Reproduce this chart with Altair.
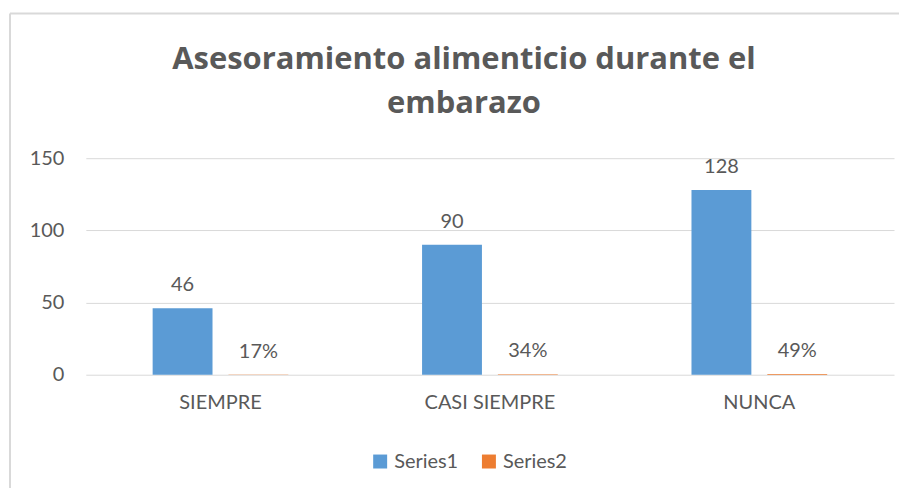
import altair as alt
import pandas as pd

categories = ["SIEMPRE", "CASI SIEMPRE", "NUNCA"]
series1 = [46, 90, 128]
series2 = [0.17, 0.34, 0.49]
series_names = ["Series1", "Series2"]
y_ticks = [0, 50, 100, 150]

rows = []
for c, v in zip(categories, series1):
    rows.append({"cat": c, "series": series_names[0], "value": v, "label": f"{v}"})
for c, v in zip(categories, series2):
    rows.append({"cat": c, "series": series_names[1], "value": v, "label": f"{round(v * 100)}%"})
df = pd.DataFrame(rows)

FONT = "Lato"
GRAY = "#595959"
GRID = "#d9d9d9"

base = alt.Chart(df).encode(
    x=alt.X(
        "cat:N",
        sort=categories,
        scale=alt.Scale(paddingInner=0.4963, paddingOuter=0.248),
        axis=alt.Axis(title=None, labelAngle=0, ticks=False, domain=False,
                      labelFontSize=20, labelColor=GRAY, labelFont=FONT, labelPadding=18),
    ),
    xOffset=alt.XOffset("series:N", sort=series_names,
                        scale=alt.Scale(paddingInner=0.2105, paddingOuter=0)),
)

bars = base.mark_bar().encode(
    y=alt.Y("value:Q", scale=alt.Scale(domain=[0, 150], nice=False),
            axis=alt.Axis(values=y_ticks, title=None, ticks=False, domain=False,
                          gridColor=GRID, labelFontSize=20, labelColor=GRAY,
                          labelFont=FONT, labelPadding=22)),
    color=alt.Color(
        "series:N", sort=series_names,
        scale=alt.Scale(domain=series_names, range=["#5B9BD5", "#ED7D31"]),
        legend=alt.Legend(title=None, orient="none", legendX=285, legendY=294,
                          direction="horizontal", symbolType="square", symbolSize=196,
                          labelFontSize=20, labelColor=GRAY, labelFont=FONT,
                          columnPadding=20, labelOffset=4, symbolStrokeWidth=0),
    ),
)

labels = base.mark_text(baseline="alphabetic", dy=-17, fontSize=20, font=FONT,
                        color=GRAY).encode(
    y=alt.Y("value:Q"),
    text="label:N",
)

one = pd.DataFrame({"a": [0]})
top_border = alt.Chart(one).mark_rule(color=GRID, strokeWidth=2).encode(
    x=alt.value(-76), x2=alt.value(830), y=alt.value(-145))
left_border = alt.Chart(one).mark_rule(color=GRID, strokeWidth=2).encode(
    x=alt.value(-76), y=alt.value(-145), y2=alt.value(340))

chart = alt.layer(top_border, left_border, bars, labels).properties(
    width=810,
    height=217,
    autosize=alt.AutoSizeParams(type="none"),
    padding={"left": 78, "top": 150, "right": 5, "bottom": 113},
    background="white",
    title=alt.Title(
        ["Asesoramiento alimenticio durante el", "embarazo"],
        fontSize=31, font="Open Sans", fontWeight="bold", color=GRAY,
        lineHeight=44, anchor="middle", dx=-26, offset=-132, baseline="alphabetic",
    ),
).configure_view(stroke=None)

chart.save("out.html", embed_options={"renderer": "svg", "actions": False})
